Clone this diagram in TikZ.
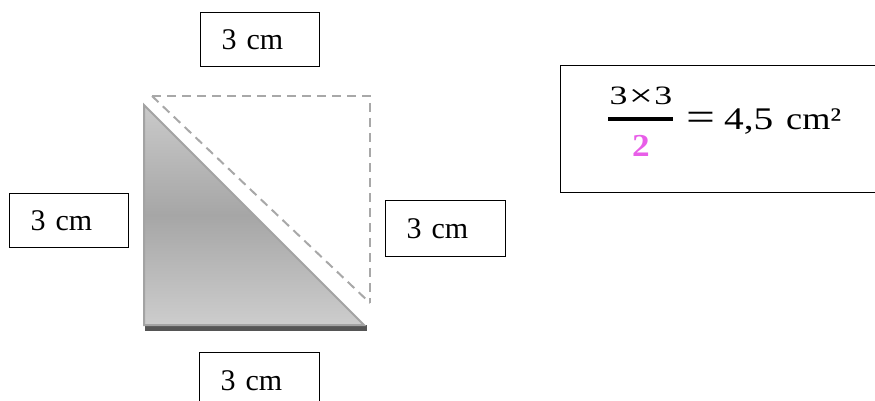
\documentclass[tikz,border=0pt]{standalone}
\usepackage{fontspec}
\setmainfont{Liberation Serif}
\definecolor{triedge}{HTML}{A3A3A3}
\definecolor{trilight}{HTML}{CACACA}
\definecolor{tridark}{HTML}{A6A6A6}
\definecolor{shadowgray}{HTML}{555555}
\definecolor{dashgray}{HTML}{A8A8A8}
\definecolor{denommag}{HTML}{E85EE8}
\begin{document}
\begin{tikzpicture}[x=1pt,y=-1pt,
  lblbox/.style={draw=black, line width=1.2pt, rectangle, anchor=north west,
    inner xsep=21pt, inner ysep=0pt, text width=#1, align=left,
    font=\fontsize{30}{36}\selectfont},
  dashline/.style={draw=dashgray, line width=2pt, dash pattern=on 9pt off 6pt},
  framebox/.style={draw=black, line width=1.3pt, rectangle, anchor=north west, inner sep=0pt},
  ftext/.style={inner sep=0pt, font=\fontsize{31.5}{36}\selectfont}]
\useasboundingbox (0,0) rectangle (875,401);
% label boxes
\node[lblbox=77pt, minimum height=54pt] (ltop) at (200,12) {3 cm};
\node[lblbox=77pt, minimum height=54pt] (lleft) at (9,193) {3 cm};
\node[lblbox=78pt, minimum height=56pt] (lright) at (385,200) {3 cm};
\node[lblbox=78pt, minimum height=56pt] (lbottom) at (199,352) {3 cm};
% triangle
\coordinate (A) at (144,105);
\coordinate (B) at (144,325);
\coordinate (C) at (364,325);
\fill[shadowgray] (145,325) rectangle (367,331);
\shade[top color=trilight, bottom color=trilight!95!white, middle color=tridark] (A) -- (B) -- (C) -- cycle;
\draw[triedge, line width=2pt, line join=miter] (A) -- (B) -- (C) -- cycle;
% dashed square
\coordinate (D1) at (152,96);
\coordinate (D2) at (370,96);
\coordinate (D3) at (370,303);
\draw[dashline] (D1) -- (D2) -- (D3);
\draw[dashline] (D1) -- (D3);
% formula box
\node[framebox, minimum width=330pt, minimum height=127pt] (fbox) at (560,65) {};
\node[anchor=base, inner sep=0pt, font=\fontsize{26.5}{30}\selectfont] (num) at (641,105) {\scalebox{1.35}[1]{3\kern1pt\raisebox{-1.6pt}{\scalebox{1.2}{×}}\kern1pt3}};
\draw[line width=3.5pt] (608,119) coordinate (barstart) -- (673,119) coordinate (barend);
\node[anchor=base, font=\bfseries\fontsize{32}{36}\selectfont, text=denommag, inner sep=0pt] (den) at (641,157) {\scalebox{1.1}[1]{2}};
\node[anchor=base, font=\fontsize{32}{36}\selectfont, inner sep=0pt] (eq) at (701,131) {\scalebox{1.6}[1.25]{=}};
\node[anchor=base west, ftext] (val) at (724,130) {\scalebox{1.25}[1]{4,5}};
\node[anchor=base west, ftext] (unit) at (786,130) {\scalebox{1.15}[1]{cm²}};
\end{tikzpicture}
\end{document}
